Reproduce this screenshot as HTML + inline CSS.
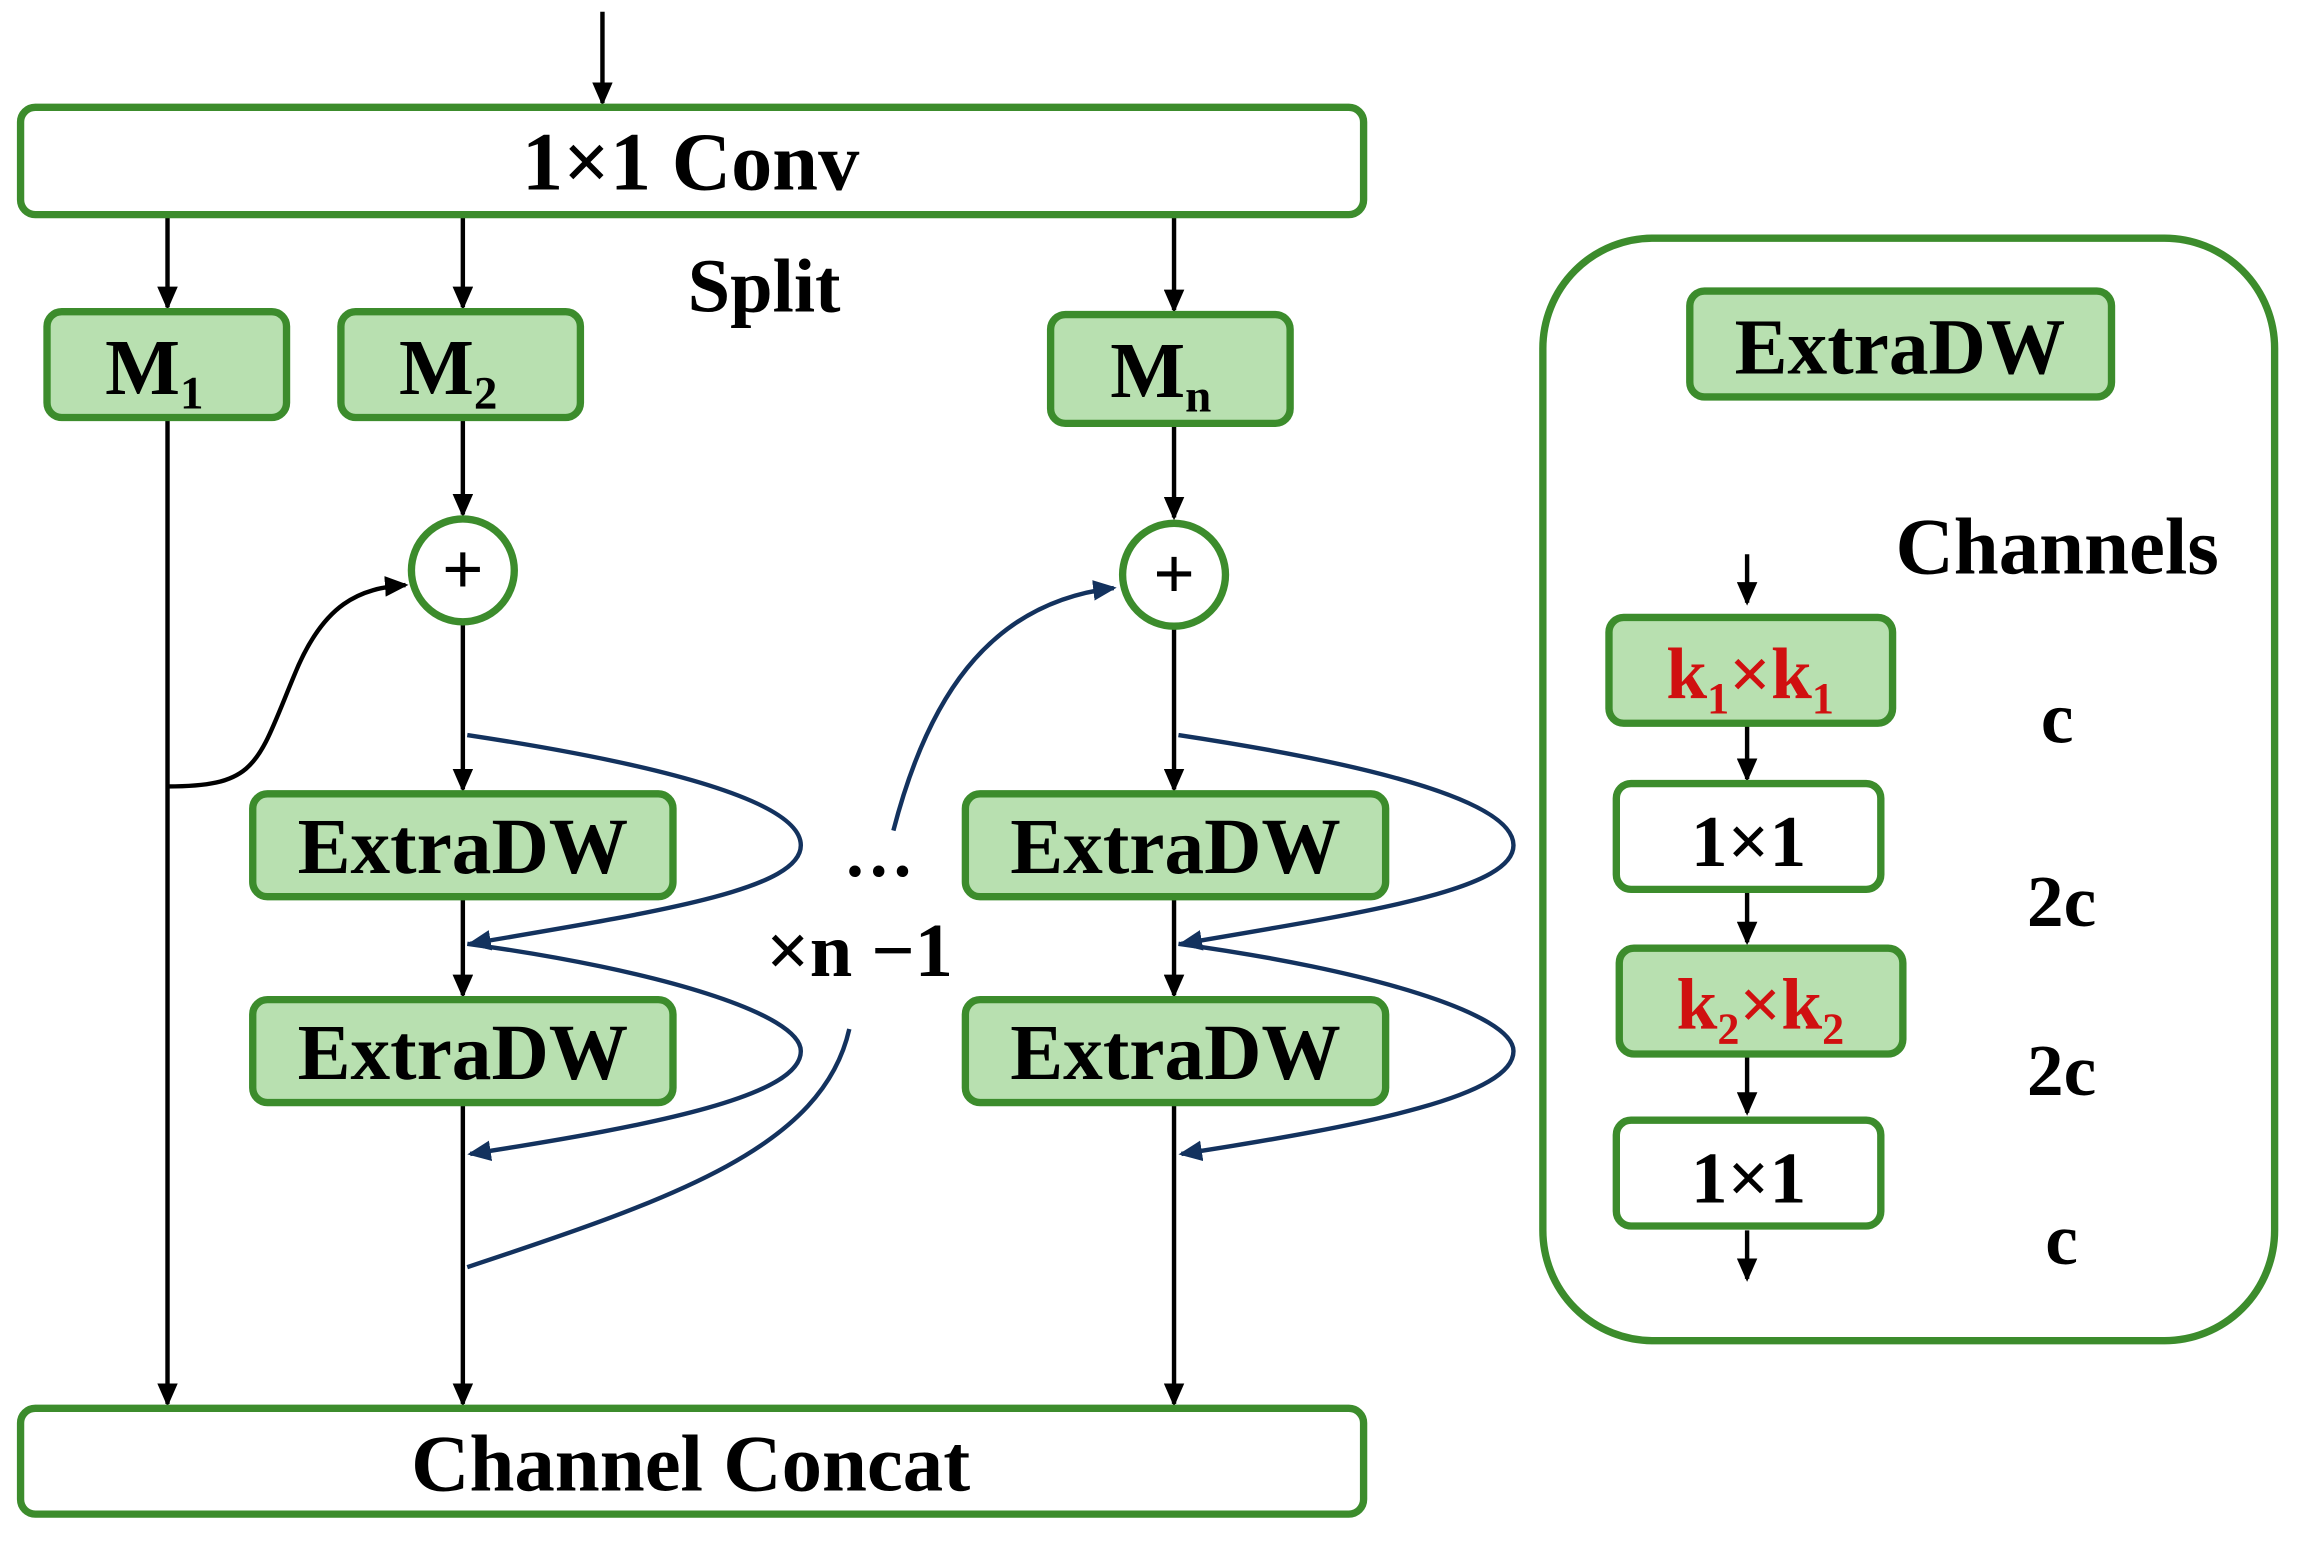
<!DOCTYPE html>
<html><head><meta charset="utf-8"><style>
html,body{margin:0;padding:0;background:#fff;}
svg{display:block;}
text{font-family:"Liberation Serif",serif;font-weight:bold;}
</style></head><body>
<svg width="2304" height="1545" viewBox="0 0 1568 1051" preserveAspectRatio="none" xmlns="http://www.w3.org/2000/svg">
<defs>
<marker id="ab" markerWidth="16" markerHeight="14" refX="14" refY="7" orient="auto" markerUnits="userSpaceOnUse" viewBox="0 0 16 14"><path d="M0,0 L16,7 L0,14 z" fill="#13325e"/></marker>
<marker id="a2" markerWidth="16" markerHeight="14" refX="14" refY="7" orient="auto" markerUnits="userSpaceOnUse" viewBox="0 0 16 14"><path d="M0,0 L16,7 L0,14 z" fill="#000"/></marker>
</defs>
<g stroke="#000" stroke-width="3" fill="none">
<line x1="410" y1="8" x2="410" y2="70" marker-end="url(#a2)"/>
<line x1="114" y1="147" x2="114" y2="209" marker-end="url(#a2)"/>
<line x1="315" y1="147" x2="315" y2="209" marker-end="url(#a2)"/>
<line x1="799" y1="147" x2="799" y2="211" marker-end="url(#a2)"/>
<line x1="114" y1="285" x2="114" y2="955" marker-end="url(#a2)"/>
<line x1="315" y1="285" x2="315" y2="350" marker-end="url(#a2)"/>
<line x1="799" y1="289" x2="799" y2="352" marker-end="url(#a2)"/>
<line x1="315" y1="424" x2="315" y2="537" marker-end="url(#a2)"/>
<line x1="799" y1="427" x2="799" y2="537" marker-end="url(#a2)"/>
<line x1="315" y1="611" x2="315" y2="677" marker-end="url(#a2)"/>
<line x1="799" y1="611" x2="799" y2="677" marker-end="url(#a2)"/>
<line x1="315" y1="751" x2="315" y2="955" marker-end="url(#a2)"/>
<line x1="799" y1="751" x2="799" y2="955" marker-end="url(#a2)"/>
<path d="M114 535 C175 535 175 520 200 460 C220 410 245 400 276 398" marker-end="url(#a2)"/>
<line x1="1189" y1="377" x2="1189" y2="410" marker-end="url(#a2)"/>
<line x1="1189" y1="494" x2="1189" y2="530" marker-end="url(#a2)"/>
<line x1="1189" y1="607" x2="1189" y2="641" marker-end="url(#a2)"/>
<line x1="1189" y1="719" x2="1189" y2="757" marker-end="url(#a2)"/>
<line x1="1189" y1="837" x2="1189" y2="870" marker-end="url(#a2)"/>
</g>
<g stroke="#13325e" stroke-width="3" fill="none">
<path d="M318 500 C450 520 545 545 545 575 C545 605 450 620 320 642" marker-end="url(#ab)"/>
<path d="M318 642 C450 660 545 690 545 715 C545 745 450 765 320 785" marker-end="url(#ab)"/>
<path d="M802 500 C934 520 1030 545 1030 575 C1030 605 934 620 804 642" marker-end="url(#ab)"/>
<path d="M802 642 C934 660 1030 690 1030 715 C1030 745 934 765 804 785" marker-end="url(#ab)"/>
<path d="M318 862 C460 815 560 780 578 700"/>
<path d="M608 565 C630 480 670 410 758 400" marker-end="url(#ab)"/>
</g>
<g stroke="#3c8c2c" stroke-width="5">
<rect x="14" y="73" width="914" height="73" rx="10" fill="#fff"/>
<rect x="14" y="958" width="914" height="72" rx="10" fill="#fff"/>
<rect x="32" y="212" width="163" height="72" rx="10" fill="#b8e0b0"/>
<rect x="232" y="212" width="163" height="72" rx="10" fill="#b8e0b0"/>
<rect x="715" y="214" width="163" height="74" rx="10" fill="#b8e0b0"/>
<circle cx="315" cy="388" r="35" fill="#fff"/>
<circle cx="799" cy="391" r="35" fill="#fff"/>
<rect x="172" y="540" width="286" height="70" rx="10" fill="#b8e0b0"/>
<rect x="172" y="680" width="286" height="70" rx="10" fill="#b8e0b0"/>
<rect x="657" y="540" width="286" height="70" rx="10" fill="#b8e0b0"/>
<rect x="657" y="680" width="286" height="70" rx="10" fill="#b8e0b0"/>
<rect x="1050" y="162" width="498" height="750" rx="75" fill="none"/>
<rect x="1150" y="198" width="287" height="72" rx="10" fill="#b8e0b0"/>
<rect x="1095" y="420" width="193" height="72" rx="10" fill="#b8e0b0"/>
<rect x="1100" y="533" width="180" height="72" rx="10" fill="#fff"/>
<rect x="1102" y="645" width="193" height="72" rx="10" fill="#b8e0b0"/>
<rect x="1100" y="762" width="180" height="72" rx="10" fill="#fff"/>
</g>
<g fill="#000" text-anchor="middle">
<text x="470" y="129" font-size="56">1×1 Conv</text>
<text x="470" y="1014" font-size="55">Channel Concat</text>
<text x="520" y="212" font-size="52">Split</text>
<text x="105" y="268" font-size="54">M<tspan font-size="32" dy="10">1</tspan></text>
<text x="305" y="268" font-size="54">M<tspan font-size="32" dy="10">2</tspan></text>
<text x="790" y="270" font-size="54">M<tspan font-size="32" dy="10">n</tspan></text>
<text x="315" y="404" font-size="50">+</text>
<text x="799" y="407" font-size="50">+</text>
<text x="315" y="594" font-size="54">ExtraDW</text>
<text x="315" y="734" font-size="54">ExtraDW</text>
<text x="800" y="594" font-size="54">ExtraDW</text>
<text x="800" y="734" font-size="54">ExtraDW</text>
<text x="598" y="596" font-size="48">…</text>
<text x="585" y="664" font-size="52">×n −1</text>
<text x="1293" y="254" font-size="54">ExtraDW</text>
<text x="1400" y="390" font-size="55">Channels</text>
<text x="1191" y="475" font-size="50" fill="#d01010">k<tspan font-size="30" dy="10">1</tspan><tspan dy="-10">×k</tspan><tspan font-size="30" dy="10">1</tspan></text>
<text x="1190" y="589" font-size="50">1×1</text>
<text x="1198" y="700" font-size="50" fill="#d01010">k<tspan font-size="30" dy="10">2</tspan><tspan dy="-10">×k</tspan><tspan font-size="30" dy="10">2</tspan></text>
<text x="1190" y="818" font-size="50">1×1</text>
<text x="1400" y="505" font-size="50">c</text>
<text x="1403" y="630" font-size="50">2c</text>
<text x="1403" y="745" font-size="50">2c</text>
<text x="1403" y="860" font-size="50">c</text>
</g>
</svg>
</body></html>
